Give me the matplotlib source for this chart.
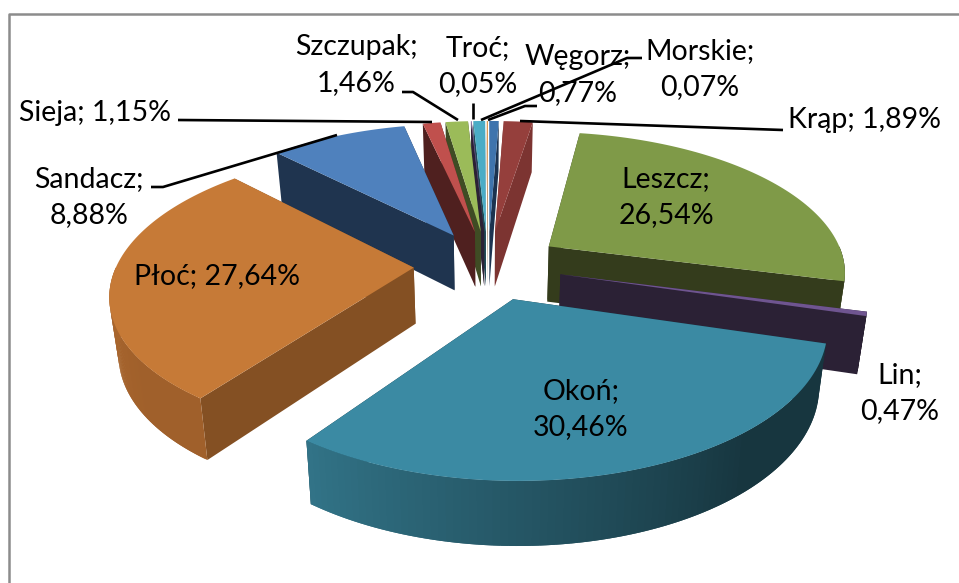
import numpy as np
import matplotlib
matplotlib.use("Agg")
import matplotlib.pyplot as plt

# first slice has no label in the source chart
labels = ["", "Krąp", "Leszcz", "Lin", "Okoń", "Płoć", "Sandacz", "Sieja", "Szczupak", "Troć", "Węgorz", "Morskie"]
shares = [0.62, 1.89, 26.54, 0.47, 30.46, 27.64, 8.88, 1.15, 1.46, 0.05, 0.77, 0.07]
top_colors = ["#3f74ad", "#953f3c", "#7f9a48", "#6f5590", "#3b8aa3", "#c67a37",
              "#4f81bd", "#c0504d", "#9bbb59", "#8064a2", "#4bacc6", "#d98a3a"]
face_colors = ["#1c3350", "#7c3431", "#343c1c", "#2b2135", "#17353f", "#845023",
               "#1f344f", "#4f201f", "#3f4c24", "#2b2135", "#1e4a55", "#7a4a20"]
arc_light = ["#2f5a8a", "#7c3431", "#3a4320", "#2b2135", "#327488", "#ad682e",
             "#1f344f", "#4f201f", "#3f4c24", "#2b2135", "#1e4a55", "#7a4a20"]
arc_dark = ["#1c3350", "#7c3431", "#343c1c", "#2b2135", "#17363f", "#a0602b",
            "#1f344f", "#4f201f", "#3f4c24", "#2b2135", "#1e4a55", "#7a4a20"]

# label text, centre of the text in pixels
label_pos = {
    "Krąp": ("Krąp; 1,89%", 864, 120),
    "Leszcz": ("Leszcz;\n26,54%", 666, 197),
    "Lin": ("Lin;\n0,47%", 900, 393),
    "Okoń": ("Okoń;\n30,46%", 581, 409),
    "Płoć": ("Płoć; 27,64%", 217, 276),
    "Sandacz": ("Sandacz;\n8,88%", 89, 197),
    "Sieja": ("Sieja; 1,15%", 95, 113),
    "Szczupak": ("Szczupak;\n1,46%", 356, 65),
    "Troć": ("Troć;\n0,05%", 478, 66),
    "Węgorz": ("Węgorz;\n0,77%", 578, 75),
    "Morskie": ("Morskie;\n0,07%", 700, 69),
}
leaders = [
    ([178, 432], [120, 122]),
    ([151, 163, 337], [187, 187, 135]),
    ([402, 413, 458], [92, 92, 120]),
    ([473, 473], [103, 119]),
    ([537, 525, 488], [106, 106, 120]),
    ([642, 627, 481], [58, 58, 120]),
    ([520, 783], [121, 130]),
]

# perspective of the pie plane
CX, CY = 488, 265
SX, SY = 297, 139
P = 0.165
Q = 0.025
DEPTH = 56
EXPLODE = 0.25


def project(x, y, z=0.0):
    w = (1 + P * y) * (1 + Q * z)
    return CX + SX * x / w, CY - SY * y / w + DEPTH * z / (1 + P * y)


def rim(theta, off):
    return off[0] + np.sin(theta), off[1] + np.cos(theta)


def quad(ax, xs, ys, color):
    ax.fill(xs, ys, facecolor=color, edgecolor="none", linewidth=0)


def mix(c1, c2, t):
    a = np.array(matplotlib.colors.to_rgb(c1))
    b = np.array(matplotlib.colors.to_rgb(c2))
    return a * (1 - t) + b * t


def draw_slice(ax, a, b, i):
    mid = (a + b) / 2
    off = (EXPLODE * np.sin(mid), EXPLODE * np.cos(mid))
    # radial faces
    for th in (a, b):
        rx, ry = rim(th, off)
        x0, y0 = project(off[0], off[1], 0)
        x1, y1 = project(rx, ry, 0)
        x2, y2 = project(rx, ry, 1)
        x3, y3 = project(off[0], off[1], 1)
        quad(ax, [x0, x1, x2, x3], [y0, y1, y2, y3], face_colors[i])
    # outer wall, only the part turned to the viewer
    lo, hi = max(a, np.pi / 2), min(b, 3 * np.pi / 2)
    if hi > lo:
        ths = np.linspace(lo, hi, 90)
        # each strip runs on under the next one so no seams show
        for k in range(len(ths) - 1):
            t0 = ths[k]
            t1 = ths[min(k + 2, len(ths) - 1)]
            rx0, ry0 = rim(t0, off)
            rx1, ry1 = rim(t1, off)
            x0, y0 = project(rx0, ry0, 0)
            x1, y1 = project(rx1, ry1, 0)
            x2, y2 = project(rx1, ry1, 1)
            x3, y3 = project(rx0, ry0, 1)
            u = (hi - t0) / (hi - lo)
            quad(ax, [x0, x1, x2, x3], [y0, y1, y2, y3],
                 mix(arc_dark[i], arc_light[i], np.clip(1 - u / 0.7, 0, 1)))
    # top
    ths = np.linspace(a, b, 80)
    rx, ry = rim(ths, off)
    xs, ys = project(np.r_[off[0], rx], np.r_[off[1], ry], 0)
    quad(ax, xs, ys, top_colors[i])


fig = plt.figure(figsize=(9.59, 5.83), dpi=100)
ax = fig.add_axes([0, 0, 1, 1])
ax.set_xlim(0, 959)
ax.set_ylim(583, 0)
ax.axis("off")

# chart frame, only left and top are inside the crop
ax.plot([9, 9, 959], [583, 14, 14], color="#8c8c8c", linewidth=1.8)

vals = np.array(shares) / np.sum(shares)
edges = np.r_[0, np.cumsum(vals)] * 2 * np.pi
# far slices first
order = np.argsort(-np.cos((edges[:-1] + edges[1:]) / 2))
for i in order:
    draw_slice(ax, edges[i], edges[i + 1], i)

for xs, ys in leaders:
    ax.plot(xs, ys, color="black", linewidth=1.9, solid_capstyle="butt")

for name in labels:
    if name in label_pos:
        txt, x, y = label_pos[name]
        ax.text(x, y, txt, ha="center", va="center", fontsize=20.5, family="Lato",
                linespacing=1.5, color="black")

fig.savefig("out.png", dpi=100)
